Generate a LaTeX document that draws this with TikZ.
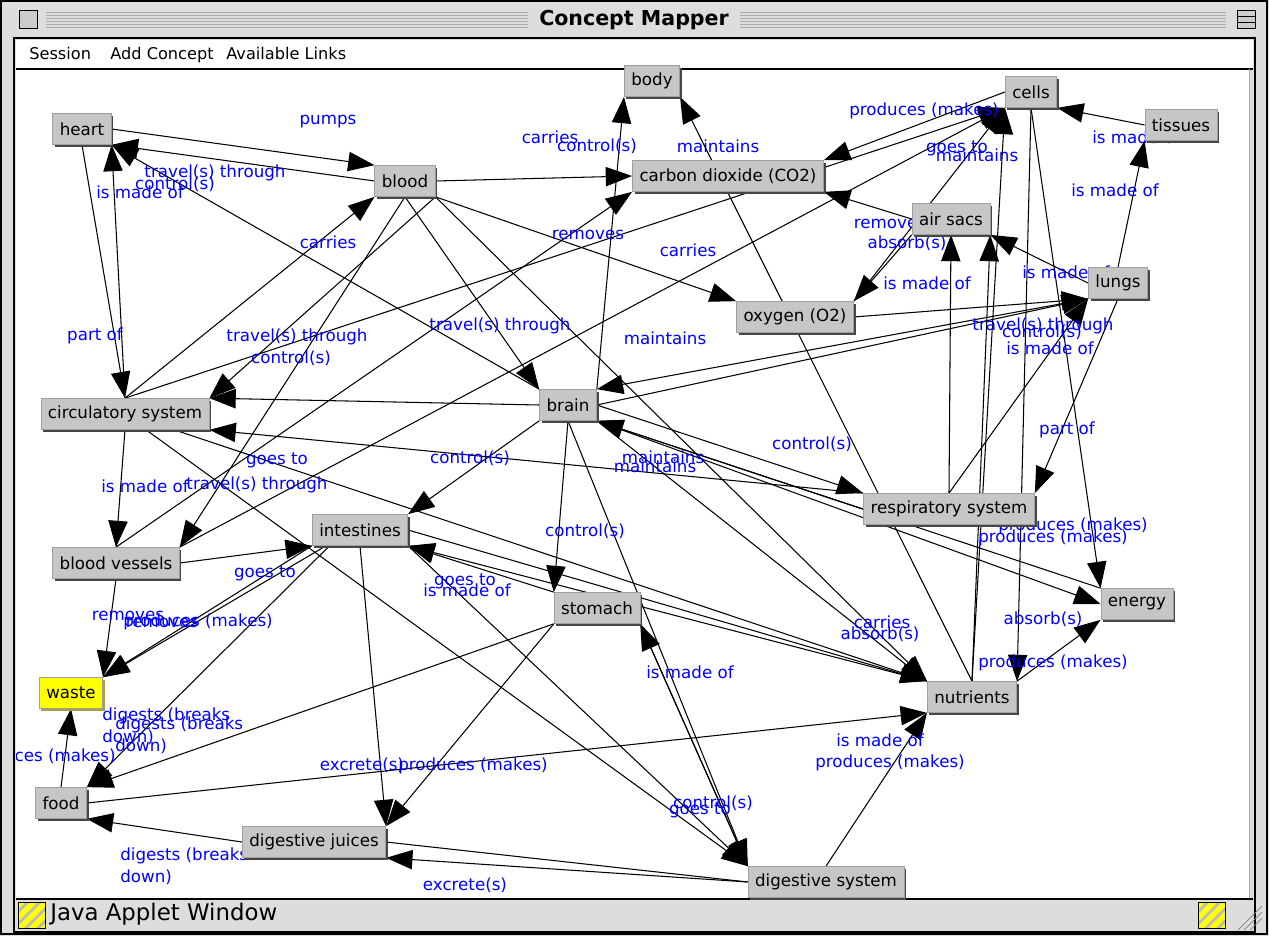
\documentclass[tikz,border=0pt]{standalone}
\usepackage{fontspec}
\newfontfamily\geneva{DejaVu Sans}
\usetikzlibrary{arrows.meta, shadows}
\definecolor{cmgray}{HTML}{C6C6C6}
\definecolor{cmblue}{HTML}{0000FF}
\definecolor{cmyellow}{HTML}{FFFF00}
\definecolor{winbg}{HTML}{DDDDDD}
\pgfdeclarelayer{back}
\pgfdeclarelayer{links}
\pgfsetlayers{back,links,main}
\tikzset{
  concept/.style={fill=cmgray, draw=gray!75, minimum height=0.62cm, inner xsep=4pt,
    font=\geneva\fontsize{9.5}{11}\selectfont,
    drop shadow={shadow xshift=1.2pt, shadow yshift=-1.2pt, fill=gray!55!black, opacity=1}},
  hilite/.style={concept, fill=cmyellow,
    drop shadow={shadow xshift=1.2pt, shadow yshift=-1.2pt, fill=yellow!60!black, opacity=1}},
  lbl/.style={text=cmblue, inner sep=0pt, font=\geneva\fontsize{9.5}{13}\selectfont},
  link/.style={black, line width=0.6pt, -{Triangle[length=15pt, width=11pt]}},
  plainlink/.style={black, line width=0.6pt},
  menu/.style={anchor=base west, inner sep=0pt, font=\geneva\fontsize{9.2}{11}\selectfont}
}
\begin{document}
\begin{tikzpicture}[x=0.02cm, y=-0.02cm]
\useasboundingbox (0,0) rectangle (1269,936);

% window frame
\begin{pgfonlayer}{back}
\fill[winbg] (0,0) rectangle (1269,936);
\draw[line width=1pt] (1,1) rectangle (1267,934);
\foreach \s in {12,15,...,27} {
  \draw[gray!65] (46,\s) -- (528,\s);
  \draw[gray!65] (740,\s) -- (1226,\s);
}
\draw[fill=gray!40] (19,10) rectangle (37,28);
\draw[fill=gray!40] (1237,10) rectangle (1255,28);
\draw (1237,16) -- (1255,16);
\draw (1237,22) -- (1255,22);
\fill[white] (16,40) rectangle (1253,68);
\fill[white] (16,69) rectangle (1250,898);
\draw[line width=0.8pt] (14,38) rectangle (1255,932);
\draw[line width=0.8pt] (16,69) -- (1253,69);
\draw[line width=0.8pt] (16,899) -- (1253,899);
\draw[gray!70] (1249,69) -- (1249,898);
\end{pgfonlayer}

\node[font=\geneva\bfseries\fontsize{11.7}{14}\selectfont, fill=winbg, inner xsep=6pt] (title) at (634,20) {Concept Mapper};
\node[menu] (session) at (29,60) {Session};
\node[menu] (addc) at (110,60) {Add Concept};
\node[menu] (avail) at (226,60) {Available Links};

% status bar
\foreach \bx in {18,1198} {
  \begin{scope}
    \clip (\bx,902) rectangle (\bx+27,928);
    \fill[gray!55] (\bx,902) rectangle (\bx+27,928);
    \foreach \k in {-24,-12,...,36}
      \draw[cmyellow, line width=3.2pt] (\bx+\k,930) -- (\bx+\k+30,900);
  \end{scope}
  \draw (\bx,902) rectangle (\bx+27,928);
}
\node[anchor=west, inner sep=0pt, font=\geneva\fontsize{13}{15}\selectfont] (status) at (50,914) {Java Applet Window};
\foreach \d in {0,6,12}
  \draw[gray] (1238+\d,930) -- (1262,906+\d);

% concepts
\node[concept] (body) at (652,81) {body};
\node[concept] (heart) at (82,129) {heart};
\node[concept] (blood) at (405,181) {blood};
\node[concept] (co2) at (728,176) {carbon dioxide (CO2)};
\node[concept] (cells) at (1031,92) {cells};
\node[concept] (tissues) at (1181,125) {tissues};
\node[concept] (airsacs) at (951,219) {air sacs};
\node[concept] (lungs) at (1118,283) {lungs};
\node[concept] (oxygen) at (795,317) {oxygen (O2)};
\node[concept] (brain) at (568,405) {brain};
\node[concept] (circ) at (125,414) {circulatory system};
\node[concept] (resp) at (949,509) {respiratory system};
\node[concept] (intest) at (360,530) {intestines};
\node[concept] (bvessels) at (116,563) {blood vessels};
\node[concept] (stomach) at (597,608) {stomach};
\node[concept] (energy) at (1137,604) {energy};
\node[hilite] (waste) at (71,693) {waste};
\node[concept] (nutrients) at (972,697) {nutrients};
\node[concept] (food) at (61,803) {food};
\node[concept] (juices) at (314,842) {digestive juices};
\node[concept] (digsys) at (826,882) {digestive system};

\begin{pgfonlayer}{links}
\begin{scope}
\clip (16,69) rectangle (1249,898);
% links
\foreach \a/\b in {heart.east/blood.north west, blood.west/heart.south east,
    brain.north west/heart.south east, circ.north/heart.south east, heart.south/circ.north,
    blood.east/co2.west, blood.south east/oxygen.north west, blood.south/brain.north west,
    blood.south east/nutrients.north west, blood.south/bvessels.north east,
    blood.south east/circ.north east, circ.north/blood.south west,
    circ.north/cells.south west, bvessels.north east/cells.south west,
    bvessels.north/co2.south west, nutrients.north/body.south east,
    brain.north east/body.south west, airsacs.west/co2.south east,
    cells.west/co2.north east, tissues.west/cells.south east,
    lungs.north/tissues.south west, lungs.west/airsacs.south east,
    resp.north/airsacs.south, airsacs.south west/oxygen.north east,
    oxygen.east/lungs.south west, brain.east/lungs.south west,
    lungs.south west/brain.north east, brain.west/circ.north east,
    resp.north west/circ.south east, circ.south/bvessels.north,
    bvessels.east/intest.south west, bvessels.south/waste.north east,
    intest.south west/waste.north east, intest.south/juices.north east,
    stomach.south west/juices.north east, stomach.south west/food.north east,
    food.north/waste.south, food.east/nutrients.south west,
    juices.west/food.south east, digsys.west/juices.south east,
    digsys.north/nutrients.south west, digsys.north west/stomach.south east,
    brain.south/stomach.north west, brain.south west/intest.north east,
    stomach.north west/intest.south east, nutrients.north west/intest.south east,
    intest.east/nutrients.north west, intest.south east/digsys.north west,
    brain.south/digsys.north west, stomach.south east/digsys.north west,
    brain.east/resp.north west, resp.west/brain.south east,
    energy.north west/brain.south east, brain.south east/energy.west,
    cells.south/energy.north west, cells.south/nutrients.north east,
    nutrients.north east/energy.south west, lungs.south/resp.north east,
    resp.north/lungs.south west, nutrients.north/cells.south west,
    nutrients.north/airsacs.south east, oxygen.north east/cells.south west,
    brain.south east/nutrients.north west}
  \draw[link] (\a) -- (\b);
\draw[link] ([xshift=-20pt]circ.south east) -- (nutrients.north west);
\draw[link] ([xshift=12pt]circ.south) -- (digsys.north west);
\draw[link] ([xshift=8pt]intest.south west) -- (waste.north east);
\draw[link] ([xshift=10pt]intest.south west) -- (food.north east);
\draw[plainlink] (juices.east) -- (digsys.west);

% link labels
\foreach \txt/\x/\y [count=\i] in {
    pumps/328/122, travel(s) through/215/173, control(s)/175/184, is made of/140/192,
    part of/95/336, carries/328/242, travel(s) through/297/337, control(s)/291/358,
    carries/550/137, control(s)/597/146, maintains/718/146, removes/588/235,
    carries/688/250, travel(s) through/500/326, maintains/665/338,
    produces (makes)/924/111, goes to/957/148, maintains/977/155,
    is made of/1136/137, is made of/1115/190, removes/890/224, absorb(s)/907/243,
    is made of/927/283, is made of/1066/272, travel(s) through/1043/326,
    control(s)/1042/332, is made of/1050/348, part of/1067/430,
    produces (makes)/1073/526, produces (makes)/1053/538, control(s)/812/444,
    maintains/663/457, maintains/655/466, control(s)/470/458, control(s)/585/531,
    goes to/465/581, is made of/467/590, goes to/277/460, is made of/145/486,
    travel(s) through/257/485, goes to/265/573, removes/128/616, removes/162/623,
    produces (makes)/198/622, excrete(s)/362/765, produces (makes)/473/766,
    excrete(s)/465/885, is made of/690/672, control(s)/713/803, goes to/700/810,
    carries/882/622, absorb(s)/880/634, absorb(s)/1043/619,
    produces (makes)/1053/663, is made of/880/740, produces (makes)/890/763}
  \node[lbl] (lbl\i) at (\x,\y) {\txt};
\node[lbl, anchor=east] (lblfood) at (116,757) {produces (makes)};
\node[lbl, anchor=north west, align=left] (lbldig1) at (102,707) {digests (breaks\\down)};
\node[lbl, anchor=north west, align=left] (lbldig2) at (115,716) {digests (breaks\\down)};
\node[lbl, anchor=north west, align=left] (lbldig3) at (120,847) {digests (breaks\\down)};
\end{scope}
\end{pgfonlayer}
\end{tikzpicture}
\end{document}
